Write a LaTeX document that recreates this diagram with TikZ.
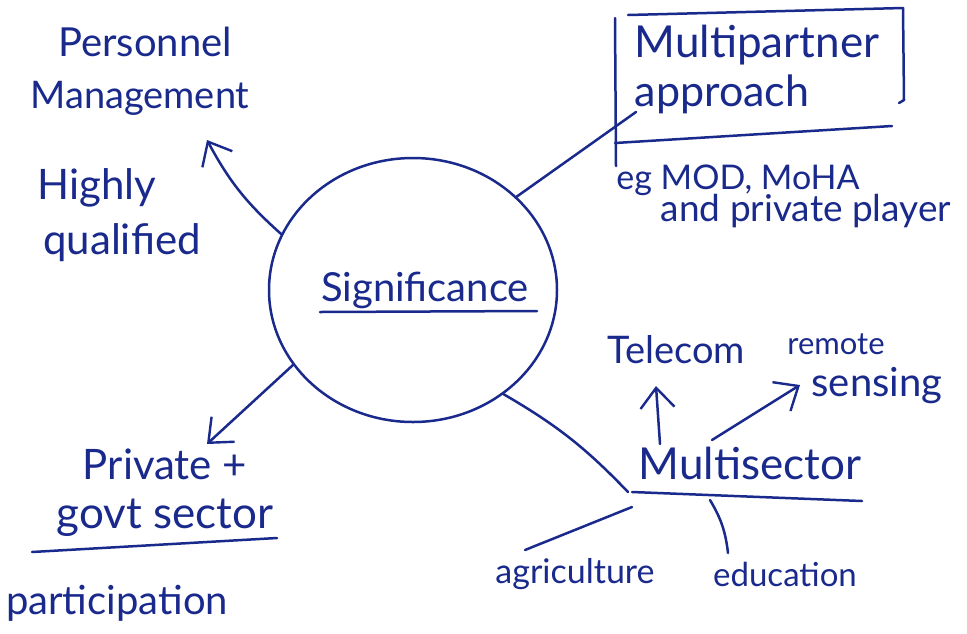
\documentclass[tikz,border=0pt]{standalone}
\usepackage{fontspec}
\setmainfont{Lato}
\usetikzlibrary{shapes.geometric,arrows.meta,calc}
\definecolor{ink}{HTML}{1A2A8C}
\begin{document}
\begin{tikzpicture}[x=1pt,y=-1pt,
  inkline/.style={draw=ink, line width=2.5pt, line cap=round, line join=round},
  hand/.style={text=ink, font=\fontsize{#1}{#1}\selectfont, inner sep=0pt},
  hand/.default=38,
  headtip/.style={-{Straight Barb[length=20pt, width=34pt, line width=2.4pt]}}]
\useasboundingbox (0,0) rectangle (967,633);
\fill[white] (0,0) rectangle (967,633);

% centre bubble
\node[ellipse, draw=ink, line width=2.5pt, minimum width=288pt, minimum height=264pt] (sig) at (413,290) {};
\node[hand=40] (sigtext) at (425,290) {Significance};
\coordinate (sigu1) at (320,312);
\coordinate (sigu2) at (537,311);
\draw[inkline] (sigu1) -- (sigu2);

% top left
\node[hand=40] (pm1) at (145,42) {Personnel};
\node[hand=38] (pm2) at (140,98) {Management};
\node[hand=42] (hq1) at (97,188) {Highly};
\node[hand=42] (hq2) at (122,243) {qualified};
\coordinate (pmtip) at (207,140);
\draw[inkline, headtip] (sig.157) to[bend left=10] (pmtip);

% top right: boxed partner note
\node[hand=44] (mp1) at (757,45) {Multipartner};
\node[hand=43] (mp2) at (722,94) {approach};
\coordinate (bx1) at (628,15);
\coordinate (bx2) at (903,8);
\coordinate (bx3) at (904,100);
\coordinate (bx4) at (615,18);
\coordinate (bx5) at (616,166);
\coordinate (bx6) at (615,143);
\coordinate (bx7) at (892,126);
\draw[inkline] (bx1) -- (bx2);
\draw[inkline] (bx2) -- (bx3) -- ++(-5,3);
\draw[inkline] (bx4) -- (bx5);
\draw[inkline] (bx6) -- (bx7);
\coordinate (mpend) at (636,112);
\draw[inkline] (sig.42) -- (mpend);
\node[hand=34] (eg1) at (738,180) {eg MOD, MoHA};
\node[hand=37] (eg2) at (806,211) {and private player};

% bottom left
\node[hand=42] (pg1) at (165,464) {Private +};
\node[hand=44] (pg2) at (165,518) {govt sector};
\coordinate (pgu1) at (32,552);
\coordinate (pgu2) at (277,538);
\draw[inkline] (pgu1) -- (pgu2);
\node[hand=40] (part) at (117,603) {participation};
\coordinate (pgtip) at (207,444);
\draw[inkline, headtip] (sig.212) -- (pgtip);

% bottom right: sectors
\node[hand=44] (ms) at (750,463) {Multisector};
\coordinate (msu1) at (632,492);
\coordinate (msu2) at (862,501);
\draw[inkline] (msu1) -- (msu2);
\coordinate (msjoin) at (628,492);
\draw[inkline] (sig.311) to[bend left=8] (msjoin);

\node[hand=38] (tel) at (676,350) {Telecom};
\node[hand=31] (rem1) at (836,344) {remote};
\node[hand=40] (rem2) at (877,386) {sensing};
\coordinate (telfoot) at (660,444);
\coordinate (teltip) at (656,386);
\draw[inkline, headtip] (telfoot) -- (teltip);
\coordinate (remfoot) at (712,440);
\coordinate (remtip) at (800,385);
\draw[inkline, headtip] (remfoot) -- (remtip);

\node[hand=34] (ag) at (575,574) {agriculture};
\node[hand=33] (ed) at (785,574) {education};
\coordinate (agtop) at (632,507);
\coordinate (agfoot) at (525,550);
\draw[inkline] (agtop) -- (agfoot);
\coordinate (edtop) at (710,500);
\coordinate (edfoot) at (728,553);
\draw[inkline] (edtop) to[bend left=12] (edfoot);
\end{tikzpicture}
\end{document}
